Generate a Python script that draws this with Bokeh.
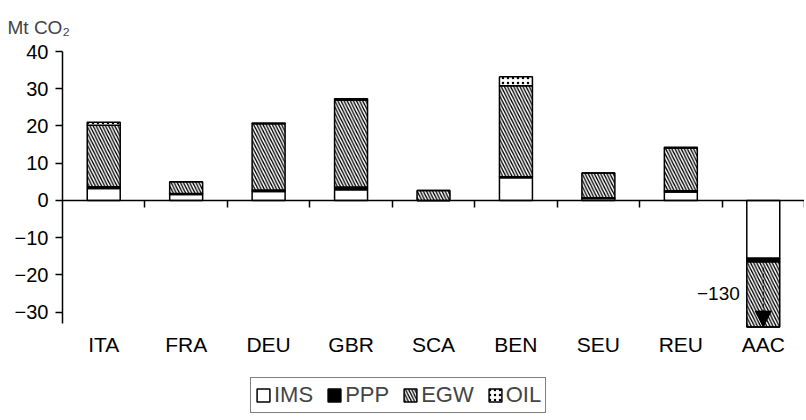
from bokeh.plotting import figure
from bokeh.models import (Range1d, LinearAxis, FixedTicker, Legend, LegendItem, Label,
                          Arrow, NormalHead, Title)
from bokeh.embed import file_html
from bokeh.resources import INLINE

# ---- data (Mt CO2) ----
categories = ["ITA", "FRA", "DEU", "GBR", "SCA", "BEN", "SEU", "REU", "AAC"]
ims = [3.2, 1.6, 2.4, 2.9, 0.0, 6.1, 0.5, 2.3, -15.5]
ppp = [0.5, 0.3, 0.4, 0.7, 0.0, 0.3, 0.2, 0.3, -1.0]
egw = [16.5, 3.1, 17.8, 23.3, 2.7, 24.4, 6.7, 11.5, -113.5]
oil = [0.8, 0.0, 0.2, 0.4, 0.0, 2.4, 0.0, 0.2, 0.0]
total_label = "\u2212130"
y_ticks = [-30, -20, -10, 0, 10, 20, 30, 40]
y_floor = -34   # lower end of the value axis (bars are cut here)
y_top = 40

FONT = "Liberation Sans"

xs = [i + 0.5 for i in range(len(categories))]


def cut(vals):
    return [max(v, y_floor) for v in vals]


b_ims = [0.0] * len(xs)
t_ims = [b + v for b, v in zip(b_ims, ims)]
t_ppp = [b + v for b, v in zip(t_ims, ppp)]
t_egw = [b + v for b, v in zip(t_ppp, egw)]
t_oil = [b + v for b, v in zip(t_egw, oil)]

p = figure(width=804, height=416, output_backend="svg", toolbar_location=None,
           x_range=Range1d(0, len(categories)), y_range=Range1d(-58, y_top),
           x_axis_location=None, y_axis_location=None,
           min_border_left=62, min_border_right=0, min_border_top=48, min_border_bottom=0)
p.outline_line_color = None
p.xgrid.visible = False
p.ygrid.visible = False

common = dict(width=0.4, line_color="black", line_width=1.5)
r_ims = p.vbar(x=xs, bottom=cut(b_ims), top=cut(t_ims), fill_color="white", **common)
r_ppp = p.vbar(x=xs, bottom=cut(t_ims), top=cut(t_ppp), fill_color="black", **common)
r_egw = p.vbar(x=xs, bottom=cut(t_ppp), top=cut(t_egw), fill_color="white",
               hatch_pattern="left_diagonal_line", hatch_color="black",
               hatch_scale=6.2, hatch_weight=1.3, **common)
r_oil = p.vbar(x=xs, bottom=cut(t_egw), top=cut(t_oil), fill_color="white",
               hatch_pattern="dot", hatch_color="black", hatch_scale=5, hatch_weight=1, **common)

# y axis
yaxis = LinearAxis(ticker=FixedTicker(ticks=y_ticks, minor_ticks=[]), bounds=(-33, y_top),
                   major_label_overrides={t: (str(t) if t >= 0 else "\u2212" + str(-t)) for t in y_ticks},
                   major_label_text_font=FONT, major_label_text_font_size="20px",
                   major_label_text_color="black",
                   axis_line_width=1.5, major_tick_line_width=1.5,
                   major_tick_in=0, major_tick_out=7, major_label_standoff=7)
p.add_layout(yaxis, "left")

# zero axis with boundary ticks (drawn at y=0, ticks pointing down)
zero_ticks = list(range(1, len(categories) + 1))
zero_axis = LinearAxis(fixed_location=0,
                       ticker=FixedTicker(ticks=zero_ticks, minor_ticks=[]),
                       major_label_overrides={t: "" for t in zero_ticks},
                       major_label_text_font_size="10px",
                       axis_line_width=1.5, major_tick_line_width=1.5,
                       major_tick_in=0, major_tick_out=7, major_label_standoff=0)
p.add_layout(zero_axis, "below")

# category labels (below the value axis' lower end)
cat_axis = LinearAxis(fixed_location=y_floor,
                      ticker=FixedTicker(ticks=xs, minor_ticks=[]),
                      major_label_overrides={x: c for x, c in zip(xs, categories)},
                      major_label_text_font=FONT, major_label_text_font_size="21px",
                      major_label_text_color="black",
                      axis_line_color=None, major_tick_line_color=None,
                      major_tick_in=0, major_tick_out=0, major_label_standoff=6)
p.add_layout(cat_axis, "below")

# annotation for truncated AAC bar
last = len(categories) - 1
p.add_layout(Arrow(end=NormalHead(size=16, fill_color="black", line_color="black"),
                   x_start=xs[last], y_start=t_ppp[last] - 1.5,
                   x_end=xs[last], y_end=y_floor,
                   line_color="black", line_width=1, line_dash="4 2"))
p.add_layout(Label(x=xs[last] - 0.2, y=-25, x_offset=-7, text=total_label, text_align="right",
                   text_baseline="middle", text_font=FONT, text_font_size="19px",
                   text_color="black"))

# title
p.add_layout(Title(text="Mt CO\u2082", text_font=FONT, text_font_size="19px",
                   text_font_style="normal", align="left", offset=-55, standoff=28), "above")

legend = Legend(items=[LegendItem(label="IMS", renderers=[r_ims]),
                       LegendItem(label="PPP", renderers=[r_ppp]),
                       LegendItem(label="EGW", renderers=[r_egw]),
                       LegendItem(label="OIL", renderers=[r_oil])],
                orientation="horizontal", location=(188, 3),
                label_text_font=FONT, label_text_font_size="22px",
                glyph_width=16, glyph_height=16, label_standoff=3, spacing=13,
                padding=4, margin=0, border_line_color="black", border_line_width=1.5,
                label_height=22)
p.add_layout(legend, "center")

open("out.html", "w").write(file_html(p, INLINE))
